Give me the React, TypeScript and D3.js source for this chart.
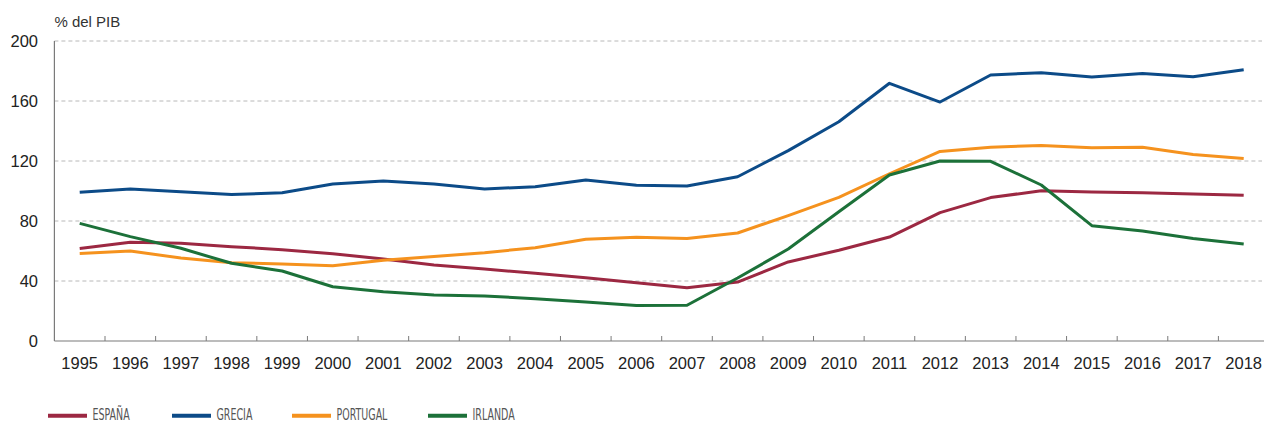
import React from "react";
import * as d3 from "d3";

const years = ["1995","1996","1997","1998","1999","2000","2001","2002","2003","2004","2005","2006","2007","2008","2009","2010","2011","2012","2013","2014","2015","2016","2017","2018"];
const espana = [61.6,65.8,65.1,62.9,60.9,58.2,54.7,50.7,48.0,45.1,42.2,38.9,35.5,39.3,52.7,60.5,69.3,85.6,95.6,100.2,99.3,98.9,98.0,97.1];
const grecia = [99.1,101.3,99.5,97.6,98.9,104.7,106.7,104.7,101.3,102.9,107.3,103.8,103.3,109.5,126.9,146.2,171.8,159.3,177.3,178.9,176.0,178.4,176.2,180.9];
const portugal = [58.4,60.0,55.3,52.2,51.3,50.2,53.8,56.4,58.9,62.2,67.8,69.1,68.4,72.0,83.6,95.8,111.5,126.4,129.1,130.4,128.9,129.1,124.4,121.6];
const irlanda = [78.4,69.6,61.8,51.8,46.7,36.2,32.9,30.7,30.0,28.2,26.0,23.6,23.8,42.0,61.3,86.2,110.7,120.0,119.8,104.0,76.9,73.3,68.4,64.7];
const yTicks = [0, 40, 80, 120, 160, 200];
const seriesNames = ["ESPAÑA", "GRECIA", "PORTUGAL", "IRLANDA"];
const seriesColors = ["#9c2842", "#0c4b88", "#f5921e", "#1c7139"];
const seriesValues = [espana, grecia, portugal, irlanda];
const axisLabel = "% del PIB";

const W = 1264, H = 423;
const plotLeft = 54.4, bandRight = 1269, plotTop = 41, plotBottom = 341;
const legendX = [48, 172, 292, 428];
const legendY = 415.7;

export default function App() {
  const x = d3.scaleBand<string>().domain(years).range([plotLeft, bandRight]).paddingInner(0).paddingOuter(0);
  const y = d3.scaleLinear().domain([0, 200]).range([plotBottom, plotTop]);
  const cx = (yr: string) => (x(yr) as number) + x.bandwidth() / 2;
  const line = d3.line<number>().x((_, i) => cx(years[i])).y((v) => y(v));
  const font = "'Liberation Sans', Arial, Helvetica, sans-serif";
  const boundaries = years.slice(1).map((yr) => x(yr) as number);

  return (
    <div style={{ position: "fixed", left: 0, top: 0, width: W, height: H, background: "#fff" }}>
      <svg width={W} height={H} style={{ display: "block" }}>
        <rect width={W} height={H} fill="#fff" />
        <text x={plotLeft} y={27} fontFamily={font} fontSize={15} fill="#333">{axisLabel}</text>
        {yTicks.filter((t) => t > 0).map((t) => (
          <line key={"g" + t} x1={plotLeft} x2={W - 2} y1={y(t)} y2={y(t)} stroke="#b8b8b8" strokeWidth={1} strokeDasharray="4,3" />
        ))}
        {yTicks.map((t) => (
          <text key={"yl" + t} x={38} y={y(t)} dy="0.36em" textAnchor="end" fontFamily={font} fontSize={16.5} fill="#222">{t}</text>
        ))}
        <line x1={plotLeft} x2={plotLeft} y1={plotTop} y2={plotBottom} stroke="#7a7a7a" strokeWidth={1.2} />
        <line x1={plotLeft} x2={W} y1={plotBottom} y2={plotBottom} stroke="#7a7a7a" strokeWidth={1.2} />
        {boundaries.map((bx, i) => (
          <line key={"t" + i} x1={bx} x2={bx} y1={plotBottom} y2={plotBottom - 5} stroke="#7a7a7a" strokeWidth={1} />
        ))}
        {years.map((yr) => (
          <text key={"xl" + yr} x={cx(yr)} y={369} textAnchor="middle" fontFamily={font} fontSize={16.5} fill="#222">{yr}</text>
        ))}
        {seriesValues.map((vals, i) => (
          <path key={"s" + i} d={line(vals) || ""} fill="none" stroke={seriesColors[i]} strokeWidth={3} strokeLinejoin="round" strokeLinecap="butt" />
        ))}
        {seriesNames.map((name, i) => (
          <g key={"lg" + i}>
            <line x1={legendX[i]} x2={legendX[i] + 39} y1={legendY} y2={legendY} stroke={seriesColors[i]} strokeWidth={4} />
            <text transform={`translate(${legendX[i] + 44.5},420.3) scale(0.66,1)`} fontFamily="'Liberation Sans Narrow', 'DejaVu Sans Condensed', Arial, sans-serif" fontSize={16} fill="#555">{name}</text>
          </g>
        ))}
      </svg>
    </div>
  );
}
